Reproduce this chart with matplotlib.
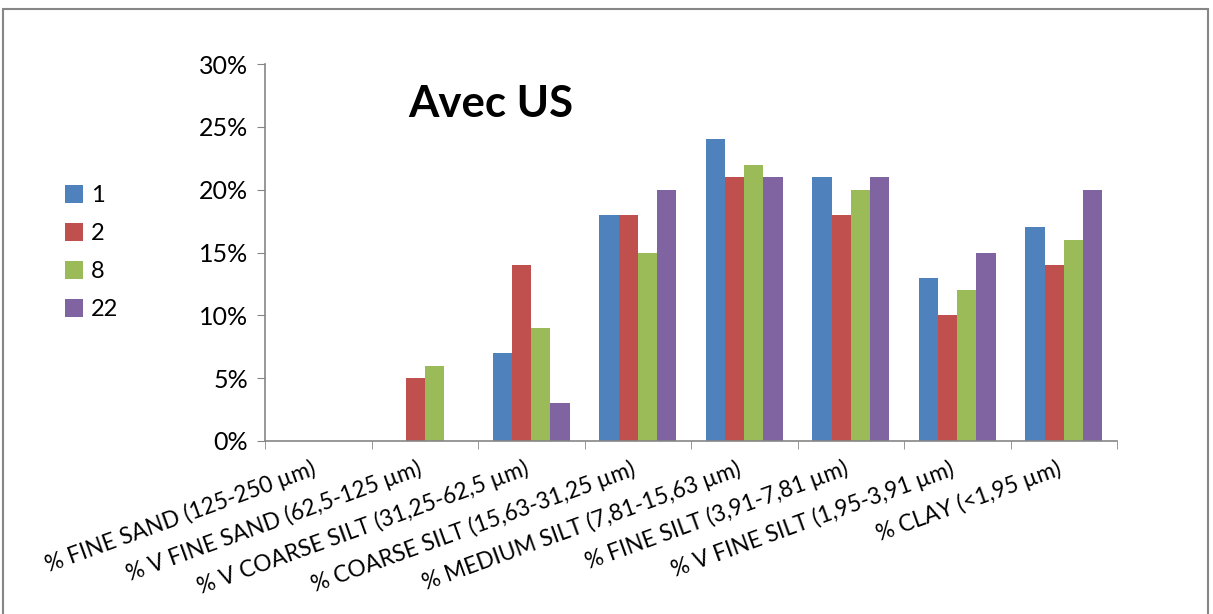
import matplotlib
matplotlib.use("Agg")
import matplotlib.pyplot as plt
import numpy as np
from matplotlib.patches import Rectangle
from matplotlib.ticker import PercentFormatter, FixedLocator

plt.rcParams['font.family'] = ['Lato', 'DejaVu Sans']

categories = ["% FINE SAND (125-250 µm)", "% V FINE SAND (62,5-125 µm)",
              "% V COARSE SILT (31,25-62,5 µm)", "% COARSE SILT (15,63-31,25 µm)",
              "% MEDIUM SILT (7,81-15,63 µm)", "% FINE SILT (3,91-7,81 µm)",
              "% V FINE SILT (1,95-3,91 µm)", "% CLAY (<1,95 µm)"]
series_names = ["1", "2", "8", "22"]
s1 = [0, 0, 7, 18, 24, 21, 13, 17]
s2 = [0, 5, 14, 18, 21, 18, 10, 14]
s8 = [0, 6, 9, 15, 22, 20, 12, 16]
s22 = [0, 0, 3, 20, 21, 21, 15, 20]
series = [s1, s2, s8, s22]
colors = ["#4F81BD", "#C0504D", "#9BBB59", "#8064A2"]
title = "Avec US"

fig = plt.figure(figsize=(12.13, 6.14), dpi=100)
ax = fig.add_axes([265/1213, 1-441/614, (1117-265)/1213, (441-64)/614])

x = np.arange(len(categories))
w = 0.18
for i, (vals, name, c) in enumerate(zip(series, series_names, colors)):
    ax.bar(x + (i - 1.5) * w, vals, width=w, color=c, label=name)

ax.set_xlim(-0.5, len(categories) - 0.5)
ax.set_ylim(0, 30)
ax.yaxis.set_major_locator(FixedLocator([0, 5, 10, 15, 20, 25, 30]))
ax.yaxis.set_major_formatter(PercentFormatter(decimals=0))
ax.set_xticks(x)
ax.set_xticklabels(categories, rotation=20, ha='right', va='top',
                   rotation_mode='default', fontsize=16.3)
ax.tick_params(axis='x', length=0, pad=12)
ax.set_xticks(np.arange(-0.5, len(categories)), minor=True)
ax.tick_params(axis='x', which='minor', length=6, color='#868686', direction='out')
ax.tick_params(axis='y', length=6, color='#868686', labelsize=18, pad=6)
for s in ['top', 'right']:
    ax.spines[s].set_visible(False)
for s in ['left', 'bottom']:
    ax.spines[s].set_color('#868686')
    ax.spines[s].set_linewidth(1.2)

ax.text(0.168, 0.895, title, transform=ax.transAxes, fontsize=31.5,
        fontweight='bold', ha='left', va='center')

fig.legend(loc='upper left', bbox_to_anchor=(44/1213, 1-164/614), frameon=False,
           fontsize=17, handlelength=0.75, handleheight=0.75, labelspacing=0.72,
           handletextpad=0.35)

fig.patches.append(Rectangle((3/1213, -0.01), 1205/1213, 1 - 9/614 + 0.01,
                             transform=fig.transFigure, fill=False,
                             edgecolor='#868686', linewidth=1.5))

fig.savefig("out.png", dpi=100)
